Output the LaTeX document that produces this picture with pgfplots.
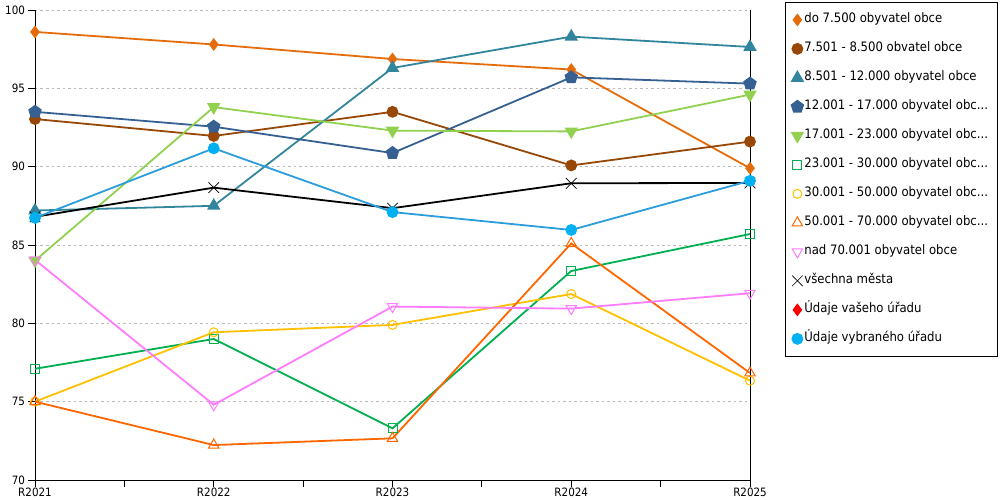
\documentclass[border=0pt]{standalone}
\usepackage{fontspec}
\setmainfont{DejaVu Sans Condensed}
\usepackage{pgfplots}
\pgfplotsset{compat=1.18}
\definecolor{c1}{HTML}{E46C0A}
\definecolor{c2}{HTML}{974706}
\definecolor{c3}{HTML}{31859C}
\definecolor{c4}{HTML}{366092}
\definecolor{c5}{HTML}{92D050}
\definecolor{c6}{HTML}{00B050}
\definecolor{c7}{HTML}{FFC000}
\definecolor{c8}{HTML}{FF6600}
\definecolor{c9}{HTML}{FF7CFF}
\definecolor{c11}{HTML}{FF0000}
\definecolor{c12}{HTML}{00B0F0}
\definecolor{c12l}{HTML}{2C9DDC}
\begin{document}
\begin{tikzpicture}
\path[use as bounding box] (0pt,0pt) rectangle (1000pt,500pt);
\begin{axis}[
  scale only axis, width=715pt, height=470pt,
  at={(35pt,20pt)}, anchor=south west,
  xmin=0, xmax=4, ymin=70, ymax=100,
  xtick={0,0.5,...,4},
  xticklabels={R2021,,R2022,,R2023,,R2024,,R2025},
  ytick={70,75,...,100},
  axis lines*=left,
  axis line style={black, line width=0.9pt},
  tick align=outside, major tick length=6.5pt,
  tick style={black, line width=0.9pt},
  ymajorgrids,
  major grid style={gray!55, dash pattern=on 2.5pt off 3pt, line width=0.7pt},
  tick label style={font=\fontsize{11.5}{13}\selectfont},
  xticklabel style={yshift=2.5pt},
  /pgf/number format/assume math mode=true,
  clip=false,
  legend style={
    at={(axis description cs:1.049,1.017)}, anchor=north west,
    draw=black, line width=0.7pt,
    font=\fontsize{13}{15}\selectfont,
    inner xsep=7pt, inner ysep=10.5pt,
    row sep=15pt,
    nodes={inner xsep=2pt, inner ysep=1pt, text height=9pt, text depth=3pt},
  },
  legend cell align=left,
  legend image code/.code={%
    \begin{pgfinterruptboundingbox}\draw[#1] plot[only marks] coordinates {(0pt,0pt)};\end{pgfinterruptboundingbox}%
    \path[draw=none, fill=none] (-5pt,-5pt) rectangle (5pt,5pt);},
  every axis plot/.append style={line width=1.8pt},
]
\addlegendimage{c1, mark=diamond*, mark size=5pt}
\addlegendentry{do 7.500 obyvatel obce}
\addlegendimage{c2, mark=*, mark size=5pt}
\addlegendentry{7.501 - 8.500 obvatel obce}
\addlegendimage{c3, mark=triangle*, mark size=6pt}
\addlegendentry{8.501 - 12.000 obyvatel obce}
\addlegendimage{c4, mark=pentagon*, mark size=6pt}
\addlegendentry{12.001 - 17.000 obyvatel obc...}
\addlegendimage{c5, mark=triangle*, mark size=6pt, mark options={rotate=180}}
\addlegendentry{17.001 - 23.000 obyvatel obc...}
\addlegendimage{c6, mark=square, mark size=4.5pt, mark options={line width=1pt}}
\addlegendentry{23.001 - 30.000 obyvatel obc...}
\addlegendimage{c7, mark=o, mark size=4.5pt, mark options={line width=1pt}}
\addlegendentry{30.001 - 50.000 obyvatel obc...}
\addlegendimage{c8, mark=triangle, mark size=6pt, mark options={line width=1pt}}
\addlegendentry{50.001 - 70.000 obyvatel obc...}
\addlegendimage{c9, mark=triangle, mark size=6pt, mark options={rotate=180, line width=1pt}}
\addlegendentry{nad 70.001 obyvatel obce}
\addlegendimage{black, mark=x, mark size=7.5pt, mark options={line width=0.7pt}}
\addlegendentry{všechna města}
\addlegendimage{c11, mark=diamond*, mark size=5pt}
\addlegendentry{Údaje vašeho úřadu}
\addlegendimage{c12, mark=*, mark size=5pt}
\addlegendentry{Údaje vybraného úřadu}

\addplot[forget plot, c1, mark=diamond*, mark size=5pt, mark options={solid}] coordinates {(0,98.6) (1,97.8) (2,96.87) (3,96.2) (4,89.9)};
\addplot[forget plot, c2, mark=*, mark size=5pt] coordinates {(0,93.04) (1,91.96) (2,93.5) (3,90.08) (4,91.6)};
\addplot[forget plot, c3, mark=triangle*, mark size=6pt] coordinates {(0,87.2) (1,87.5) (2,96.3) (3,98.3) (4,97.64)};
\addplot[forget plot, c4, mark=pentagon*, mark size=6pt] coordinates {(0,93.5) (1,92.55) (2,90.87) (3,95.7) (4,95.3)};
\addplot[forget plot, c5, mark=triangle*, mark size=6pt, mark options={rotate=180}] coordinates {(0,84.0) (1,93.8) (2,92.3) (3,92.25) (4,94.6)};
\addplot[forget plot, c6, mark=square, mark size=4.5pt, mark options={line width=1pt}] coordinates {(0,77.1) (1,79.0) (2,73.3) (3,83.34) (4,85.7)};
\addplot[forget plot, c7, mark=o, mark size=4.5pt, mark options={line width=1pt}] coordinates {(0,75.0) (1,79.43) (2,79.9) (3,81.87) (4,76.34)};
\addplot[forget plot, c8, mark=triangle, mark size=6pt, mark options={line width=1pt}] coordinates {(0,75.0) (1,72.23) (2,72.66) (3,85.1) (4,76.83)};
\addplot[forget plot, c9, mark=triangle, mark size=6pt, mark options={rotate=180, line width=1pt}] coordinates {(0,84.05) (1,74.8) (2,81.07) (3,80.94) (4,81.92)};
\addplot[forget plot, black, mark=x, mark size=7.5pt, mark options={line width=0.7pt}] coordinates {(0,86.8) (1,88.66) (2,87.35) (3,88.94) (4,88.96)};
\addplot[forget plot, c12l, mark=*, mark size=5pt, mark options={c12}] coordinates {(0,86.73) (1,91.17) (2,87.1) (3,85.96) (4,89.1)};
\draw[black, line width=0.9pt] (rel axis cs:1,0) -- (rel axis cs:1,1);
\end{axis}
\end{tikzpicture}
\end{document}
